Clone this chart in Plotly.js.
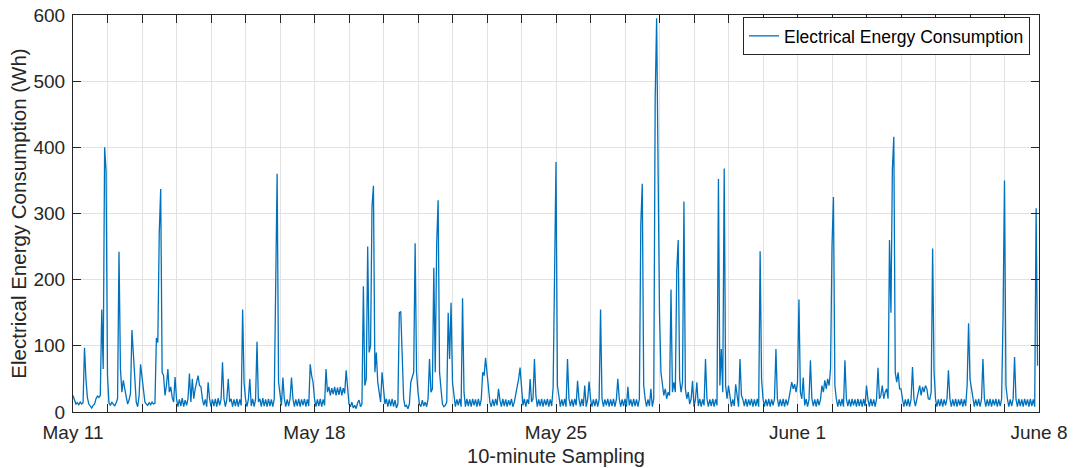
<!DOCTYPE html>
<html>
<head>
<meta charset="utf-8">
<script src="https://cdn.plot.ly/plotly-3.0.1.min.js"></script>
<style>html,body{margin:0;padding:0;background:#fff;}#chart{width:1073px;height:468px;}</style>
</head>
<body>
<div id="chart"></div>
<script>
// Hourly readings (Wh), one row per day
var week1 = [
 25,18,12,14,11,15,12,14,97,50,22,12,8,6,10,12,20,24,22,25,155,65,400,365,
 55,14,10,15,12,9,14,20,242,65,30,48,35,20,12,18,28,124,90,40,15,8,25,72,
 50,30,15,12,10,14,11,15,12,13,112,105,270,337,60,55,25,40,65,30,38,22,15,53,
 20,8,19,9,21,8,18,10,20,58,15,50,20,35,45,55,40,38,20,10,19,8,45,20,
 8,19,9,20,8,21,10,19,75,20,8,19,50,15,20,8,19,9,20,8,19,10,155,45,
 20,8,19,50,9,20,8,19,106,15,20,8,21,9,19,8,20,9,19,8,20,235,360,45,
 25,10,52,20,8,19,9,20,52,20,8,19,9,20,8,19,10,20,8,19,9,72,55,45
];
var week2 = [
 20,8,19,9,20,8,19,10,65,30,38,25,36,27,38,25,37,26,38,25,36,28,63,40,
 12,8,15,6,10,5,14,18,8,12,190,40,50,250,90,100,310,342,60,90,45,30,15,60,
 30,12,20,8,19,9,20,8,18,6,12,150,152,80,20,8,10,5,12,45,55,60,255,60,
 30,12,8,18,9,15,8,20,80,30,35,218,60,255,320,60,35,12,8,10,15,150,80,165,
 45,25,8,19,10,20,8,172,30,8,20,9,19,8,20,10,19,8,20,9,19,60,55,82,
 55,30,15,8,19,9,20,10,35,18,8,20,9,19,8,18,10,20,8,15,25,40,50,67,
 35,10,20,8,19,12,50,15,20,80,25,8,19,9,20,8,19,10,20,8,19,9,37,265
];
var week3 = [
 378,40,20,8,19,9,20,8,80,20,9,19,8,20,10,47,19,8,20,9,40,8,19,46,
 20,8,19,9,20,8,19,155,20,8,19,10,20,8,19,9,20,8,19,50,20,8,19,9,
 20,8,38,10,19,8,20,9,19,8,20,283,345,40,20,8,19,9,35,8,20,475,595,380,
 150,60,40,25,35,20,30,25,185,30,45,30,214,260,50,30,45,318,35,20,30,12,20,47,
 8,19,45,9,20,8,19,10,80,20,8,19,9,20,8,19,10,352,40,95,30,368,40,20,
 40,20,8,19,9,42,20,8,80,25,19,9,20,8,19,10,20,8,19,9,20,8,243,50,
 20,8,19,9,20,8,19,10,20,95,20,8,19,9,20,8,19,10,20,30,45,35,42,30
];
var week4 = [
 45,170,30,20,52,10,20,8,19,78,20,9,19,8,20,10,19,40,30,48,35,50,40,66,
 250,325,40,20,8,19,9,20,8,78,20,9,19,8,20,10,19,8,20,9,19,8,20,9,
 40,19,8,20,9,19,8,20,67,20,25,40,20,30,35,20,260,150,367,416,60,45,60,35,
 35,20,8,19,9,20,8,19,68,20,9,19,30,40,25,38,30,40,35,20,19,30,247,60,
 20,8,19,9,20,8,19,10,20,63,20,8,19,9,20,8,19,10,20,8,19,9,40,134,
 50,35,20,8,19,9,20,8,19,80,20,8,19,9,20,8,19,10,20,8,19,9,20,145,
 350,40,20,8,19,9,20,83,19,8,20,9,19,8,20,10,19,8,20,9,19,8,308,70
];
var weekLabels = ['May 11', 'May 18', 'May 25', 'June 1', 'June 8'];
var seriesName = 'Electrical Energy Consumption';

var values = week1.concat(week2, week3, week4);
var start = Date.UTC(2016, 4, 11);
var HOUR = 3600000, DAY = 86400000;
var times = values.map(function (v, i) { return start + i * HOUR; });

var tickvals = [], ticktext = [];
for (var d = 0; d <= 28; d++) {
  tickvals.push(start + d * DAY);
  ticktext.push(d % 7 === 0 ? weekLabels[d / 7] : '');
}

var trace = {
  x: times, y: values, type: 'scatter', mode: 'lines', name: seriesName,
  line: {color: '#0072BD', width: 1.3}
};

var axisCol = '#262626';
var layout = {
  width: 1073, height: 468,
  margin: {l: 73, r: 34, t: 15, b: 56},
  paper_bgcolor: '#ffffff', plot_bgcolor: '#ffffff',
  font: {family: 'Liberation Sans, Arial, Helvetica, sans-serif', color: axisCol},
  showlegend: true,
  xaxis: {
    type: 'date', range: [start, start + 28 * DAY],
    tickmode: 'array', tickvals: tickvals, ticktext: ticktext,
    ticks: 'inside', ticklen: 8, tickwidth: 1, tickcolor: axisCol,
    showline: true, linecolor: axisCol, linewidth: 1, mirror: 'ticks',
    showgrid: true, gridcolor: '#e2e2e2', gridwidth: 1, zeroline: false,
    ticklabelstandoff: 3,
    tickfont: {size: 19, color: axisCol},
    title: {text: '10-minute Sampling', font: {size: 20, color: axisCol}, standoff: 7}
  },
  yaxis: {
    range: [0, 600], tickmode: 'linear', tick0: 0, dtick: 100,
    ticks: 'inside', ticklen: 8, tickwidth: 1, tickcolor: axisCol,
    showline: true, linecolor: axisCol, linewidth: 1, mirror: 'ticks',
    showgrid: true, gridcolor: '#e2e2e2', gridwidth: 1, zeroline: false,
    ticklabelstandoff: 3,
    tickfont: {size: 19, color: axisCol},
    title: {text: 'Electrical Energy Consumption (Wh)', font: {size: 20.5, color: axisCol}, standoff: 1}
  },
  legend: {
    x: 0.9907, xanchor: 'right', y: 0.995, yanchor: 'top',
    bgcolor: '#ffffff', bordercolor: axisCol, borderwidth: 1,
    font: {size: 17.5, color: '#000000'}
  }
};

Plotly.newPlot('chart', [trace], layout, {displayModeBar: false, staticPlot: true});
</script>
</body>
</html>
